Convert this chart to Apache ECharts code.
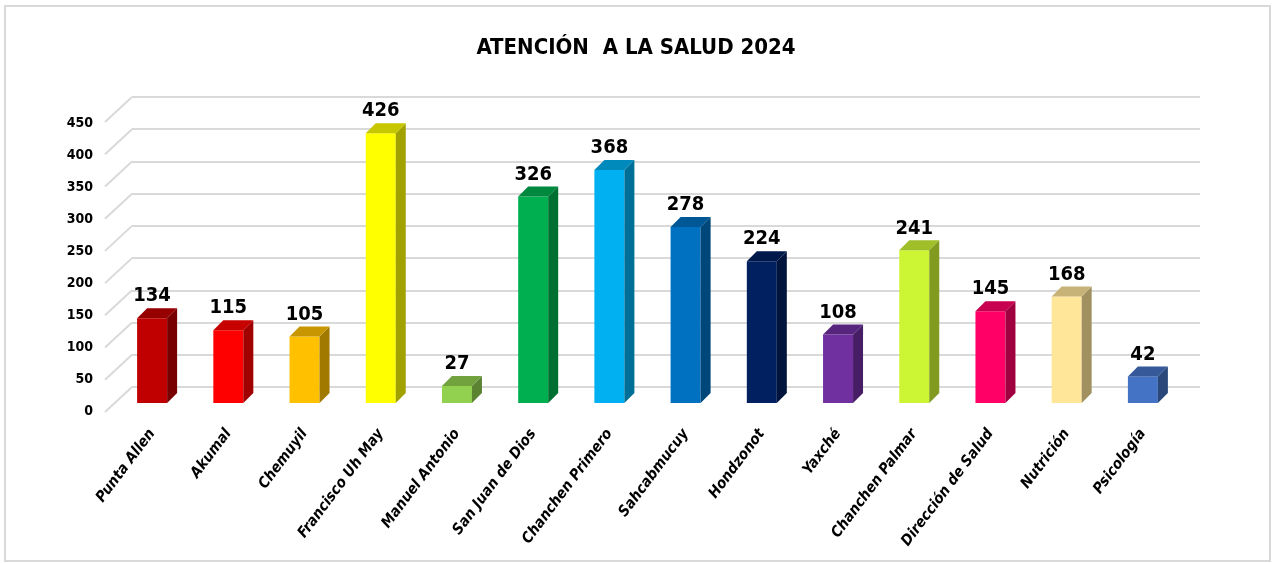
<!DOCTYPE html>
<html>
<head>
<meta charset="utf-8">
<script src="https://cdn.jsdelivr.net/npm/echarts@6/dist/echarts.min.js"></script>
<style>
    html, body { margin: 0; padding: 0; background: #fff; }
    #box { width: 1272px; height: 563px; }
</style>
</head>
<body>
<div id="box"></div>
<script>
var categories = ['Punta Allen', 'Akumal', 'Chemuyil', 'Francisco Uh May', 'Manuel Antonio',
    'San Juan de Dios', 'Chanchen Primero', 'Sahcabmucuy', 'Hondzonot', 'Yaxché',
    'Chanchen Palmar', 'Dirección de Salud', 'Nutrición', 'Psicología'];
var values = [134, 115, 105, 426, 27, 326, 368, 278, 224, 108, 241, 145, 168, 42];
var yTicks = [0, 50, 100, 150, 200, 250, 300, 350, 400, 450];

var barColors = ['#C00000', '#FF0000', '#FFC000', '#FFFF00', '#92D050', '#00B050', '#00B0F0',
    '#0070C0', '#002060', '#7030A0', '#CCF533', '#FF0066', '#FFE699', '#4472C4'];

var FONT = "'Liberation Sans Narrow', 'DejaVu Sans Condensed', 'Liberation Sans', sans-serif";

function shade(hex, k) {
    var n = parseInt(hex.slice(1), 16);
    var r = Math.round(((n >> 16) & 255) * k);
    var g = Math.round(((n >> 8) & 255) * k);
    var b = Math.round((n & 255) * k);
    return 'rgb(' + r + ',' + g + ',' + b + ')';
}

// 3d-looking bar: front face, right side, top
function renderBar(params, api) {
    var i = api.value(0);
    var v = api.value(1);
    var base = api.coord([i, 0]);
    var top = api.coord([i, v]);
    var w = 30, d = 10;
    var x0 = base[0] - w / 2;
    var x1 = base[0] + w / 2;
    var c = barColors[params.dataIndex];
    return {
        type: 'group',
        children: [
            {
                type: 'rect',
                shape: { x: x0, y: top[1], width: w, height: base[1] - top[1] },
                style: { fill: c }
            },
            {
                type: 'polygon',
                shape: { points: [[x1, top[1]], [x1 + d, top[1] - d], [x1 + d, base[1] - d], [x1, base[1]]] },
                style: { fill: shade(c, 0.63) }
            },
            {
                type: 'polygon',
                shape: { points: [[x0, top[1]], [x1, top[1]], [x1 + d, top[1] - d], [x0 + d, top[1] - d]] },
                style: { fill: shade(c, 0.78) }
            },
            {
                type: 'text',
                style: {
                    text: String(v),
                    x: base[0],
                    y: top[1] - d - 2,
                    align: 'center',
                    verticalAlign: 'bottom',
                    fill: '#000',
                    font: 'bold 20px ' + FONT
                }
            }
        ]
    };
}

// slanted lines that join the back wall to the front edge
function renderDiag(params, api) {
    var p = api.coord([0, api.value(0)]);
    return {
        type: 'line',
        shape: { x1: p[0], y1: p[1], x2: p[0] - 27, y2: p[1] + 25 },
        style: { stroke: '#d9d9d9', lineWidth: 2 }
    };
}

var myChart = echarts.init(document.getElementById('box'));

var option = {
    backgroundColor: '#fff',
    animation: false,
    title: {
        text: 'ATENCIÓN  A LA SALUD 2024',
        left: 'center',
        top: 32,
        textStyle: { fontFamily: FONT, fontWeight: 'bold', fontSize: 22, color: '#000' }
    },
    graphic: [{
        type: 'rect',
        shape: { x: 5, y: 6, width: 1265, height: 555 },
        style: { fill: 'none', stroke: '#d9d9d9', lineWidth: 2 },
        silent: true
    }],
    grid: [
        { left: 114, right: 91, top: 118, bottom: 160 },   // bars
        { left: 132, right: 72, top: 97, bottom: 176 },    // back wall
        { left: 105, right: 99, top: 123, bottom: 152 }    // front edge labels
    ],
    xAxis: [
        {
            gridIndex: 0,
            type: 'category',
            data: categories,
            axisLine: { show: false },
            axisTick: { show: false },
            axisLabel: {
                rotate: 53,
                margin: 28,
                color: '#000',
                fontFamily: FONT,
                fontWeight: 'bold',
                fontStyle: 'italic',
                fontSize: 15
            }
        },
        { gridIndex: 1, type: 'value', min: 0, max: 1, show: false },
        { gridIndex: 2, type: 'value', min: 0, max: 1, show: false }
    ],
    yAxis: [
        { gridIndex: 0, type: 'value', min: 0, max: 450, show: false },
        {
            gridIndex: 1,
            type: 'value',
            min: 0,
            max: 450,
            interval: 50,
            axisLine: { show: false },
            axisTick: { show: false },
            axisLabel: { show: false },
            splitLine: { lineStyle: { color: '#d9d9d9', width: 2 } }
        },
        {
            gridIndex: 2,
            type: 'value',
            min: 0,
            max: 450,
            interval: 50,
            axisLine: { show: false },
            axisTick: { show: false },
            splitLine: { show: false },
            axisLabel: {
                margin: 12,
                color: '#000',
                fontFamily: FONT,
                fontWeight: 'bold',
                fontSize: 14
            }
        }
    ],
    series: [
        {
            name: 'pared',
            type: 'custom',
            xAxisIndex: 1,
            yAxisIndex: 1,
            silent: true,
            renderItem: renderDiag,
            data: yTicks.map(function (t) { return [t]; }),
            encode: { y: 0 },
            z: 1
        },
        {
            name: 'Atención',
            type: 'custom',
            xAxisIndex: 0,
            yAxisIndex: 0,
            renderItem: renderBar,
            data: values.map(function (v, i) { return [i, v]; }),
            encode: { x: 0, y: 1 },
            z: 5
        }
    ]
};

if (option && typeof option === "object") {
    myChart.setOption(option, true);
}
</script>
</body>
</html>
